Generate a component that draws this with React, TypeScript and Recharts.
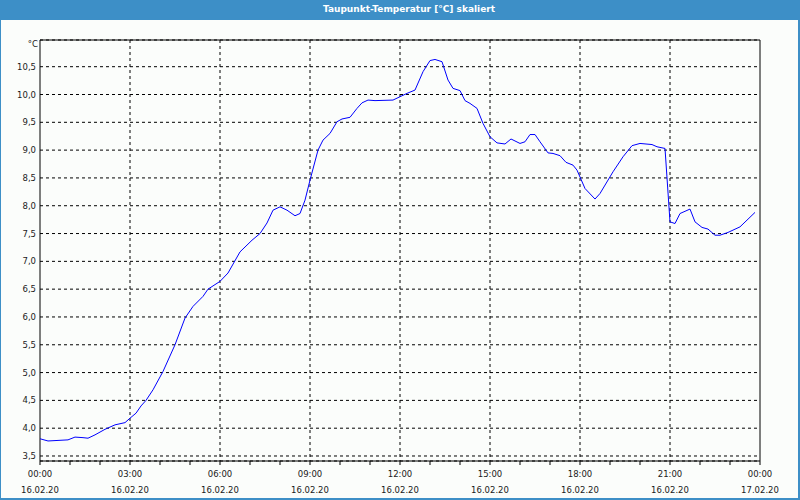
import React from "react";
import {
  LineChart,
  Line,
  XAxis,
  YAxis,
  CartesianGrid,
  ReferenceArea,
} from "recharts";

// minutes since 16.02.20 00:00
const minutes = [
  0, 16, 56, 70, 86, 96, 110, 130, 150, 170, 180, 192, 202, 212, 226, 246, 270,
  290, 306, 326, 336, 360, 376, 400, 424, 440, 454, 466, 480, 494, 510, 520,
  530, 540, 556, 566, 580, 594, 604, 620, 634, 644, 656, 670, 706, 720, 734,
  750, 766, 780, 790, 804, 816, 826, 840, 850, 860, 874, 886, 900, 914, 930,
  942, 960, 970, 980, 990, 1000, 1016, 1026, 1040, 1052, 1066, 1074, 1090,
  1110, 1120, 1146, 1166, 1184, 1200, 1224, 1234, 1250, 1260, 1270, 1280, 1300,
  1310, 1324, 1336, 1350, 1360, 1376, 1400, 1430,
];

// dew point °C
const dewPoint = [
  3.81, 3.77, 3.79, 3.84, 3.83, 3.82, 3.88, 3.98, 4.06, 4.1, 4.18, 4.27, 4.4,
  4.5, 4.69, 5.02, 5.5, 5.98, 6.19, 6.37, 6.5, 6.64, 6.79, 7.17, 7.38, 7.5,
  7.69, 7.92, 7.98, 7.92, 7.82, 7.86, 8.1, 8.46, 9.0, 9.18, 9.3, 9.51, 9.56,
  9.59, 9.75, 9.85, 9.9, 9.89, 9.9, 9.96, 10.02, 10.08, 10.41, 10.61, 10.63,
  10.59, 10.26, 10.11, 10.07, 9.89, 9.84, 9.75, 9.48, 9.24, 9.13, 9.11, 9.2,
  9.12, 9.15, 9.28, 9.28, 9.15, 8.95, 8.94, 8.9, 8.78, 8.73, 8.64, 8.31, 8.12,
  8.22, 8.61, 8.88, 9.08, 9.12, 9.1, 9.06, 9.03, 7.71, 7.68, 7.86, 7.94, 7.71,
  7.61, 7.58, 7.47, 7.47, 7.52, 7.62, 7.88,
];

const hourTicks = [
  0, 60, 120, 180, 240, 300, 360, 420, 480, 540, 600, 660, 720, 780, 840, 900,
  960, 1020, 1080, 1140, 1200, 1260, 1320, 1380, 1440,
];
const majorTicks = [180, 360, 540, 720, 900, 1080, 1260];
const timeLabels: Record<number, string> = {
  0: "00:00",
  180: "03:00",
  360: "06:00",
  540: "09:00",
  720: "12:00",
  900: "15:00",
  1080: "18:00",
  1260: "21:00",
  1440: "00:00",
};
const dateLabels: Record<number, string> = {
  0: "16.02.20",
  180: "16.02.20",
  360: "16.02.20",
  540: "16.02.20",
  720: "16.02.20",
  900: "16.02.20",
  1080: "16.02.20",
  1260: "16.02.20",
  1440: "17.02.20",
};
const yTicks = [3.5, 4, 4.5, 5, 5.5, 6, 6.5, 7, 7.5, 8, 8.5, 9, 9.5, 10, 10.5];
const yMin = 3.41;
const yMax = 10.98;

const data = minutes.map((t, i) => ({ t, v: dewPoint[i] }));

const FONT = "'DejaVu Sans', sans-serif";

const TimeTick = (props: any) => {
  const { x, y, payload } = props;
  const m = payload.value;
  return (
    <g>
      <line x1={x} y1={y} x2={x} y2={y + 4} stroke="#000" />
      {timeLabels[m] && (
        <>
          <text x={x} y={y + 16} textAnchor="middle" fontSize={8.5} fontFamily={FONT} fill="#1a1a1a">
            {timeLabels[m]}
          </text>
          <text x={x} y={y + 32} textAnchor="middle" fontSize={8.5} fontFamily={FONT} fill="#1a1a1a">
            {dateLabels[m]}
          </text>
        </>
      )}
    </g>
  );
};

export default function App() {
  return (
    <div
      style={{
        position: "absolute",
        left: 0,
        top: 0,
        width: 800,
        height: 500,
        boxSizing: "border-box",
        background: "#fbfdfb",
        borderLeft: "1px solid #3d8fc7",
        borderRight: "2px solid #3d8fc7",
        borderBottom: "2px solid #3d8fc7",
      }}
    >
      <div
        style={{
          position: "absolute",
          left: 0,
          top: 0,
          width: 800,
          height: 20,
          background: "#3d8fc7",
        }}
      />
      <div
        style={{
          position: "absolute",
          left: -1,
          top: 0,
          width: 818,
          height: 18,
          lineHeight: "18px",
          textAlign: "center",
          color: "#fff",
          fontFamily: FONT,
          fontWeight: "bold",
          fontSize: 9,
        }}
      >
        Taupunkt-Temperatur [°C] skaliert
      </div>
      <div
        style={{
          position: "absolute",
          left: 0,
          top: 39,
          width: 37,
          textAlign: "right",
          fontFamily: FONT,
          fontSize: 8.5,
          color: "#1a1a1a",
        }}
      >
        °C
      </div>
      <div style={{ position: "absolute", left: -1, top: 0 }}>
        <LineChart
          width={800}
          height={500}
          data={data}
          margin={{ top: 40, right: 40, bottom: 0, left: 0 }}
        >
          <CartesianGrid
            stroke="#000"
            strokeDasharray="3 3"
            verticalCoordinatesGenerator={({ offset }: any) =>
              majorTicks.map((m) => offset.left + (offset.width * m) / 1440)
            }
          />
          <XAxis
            dataKey="t"
            type="number"
            domain={[0, 1440]}
            ticks={hourTicks}
            interval={0}
            height={39}
            tickSize={0}
            tickMargin={0}
            tickLine={false}
            axisLine={false}
            tick={<TimeTick />}
          />
          <YAxis
            type="number"
            domain={[yMin, yMax]}
            allowDataOverflow
            ticks={yTicks}
            interval={0}
            width={40}
            tickSize={0}
            tickMargin={4}
            tickLine={false}
            axisLine={false}
            tickFormatter={(v: number) => v.toFixed(1).replace(".", ",")}
            tick={{ fontSize: 8.5, fontFamily: FONT, fill: "#1a1a1a" }}
          />
          <ReferenceArea
            x1={0}
            x2={1440}
            y1={yMin}
            y2={yMax}
            fill="none"
            stroke="#000"
            strokeOpacity={1}
          />
          <Line
            type="linear"
            dataKey="v"
            stroke="#0000ff"
            strokeWidth={1}
            dot={false}
            isAnimationActive={false}
          />
        </LineChart>
      </div>
    </div>
  );
}
